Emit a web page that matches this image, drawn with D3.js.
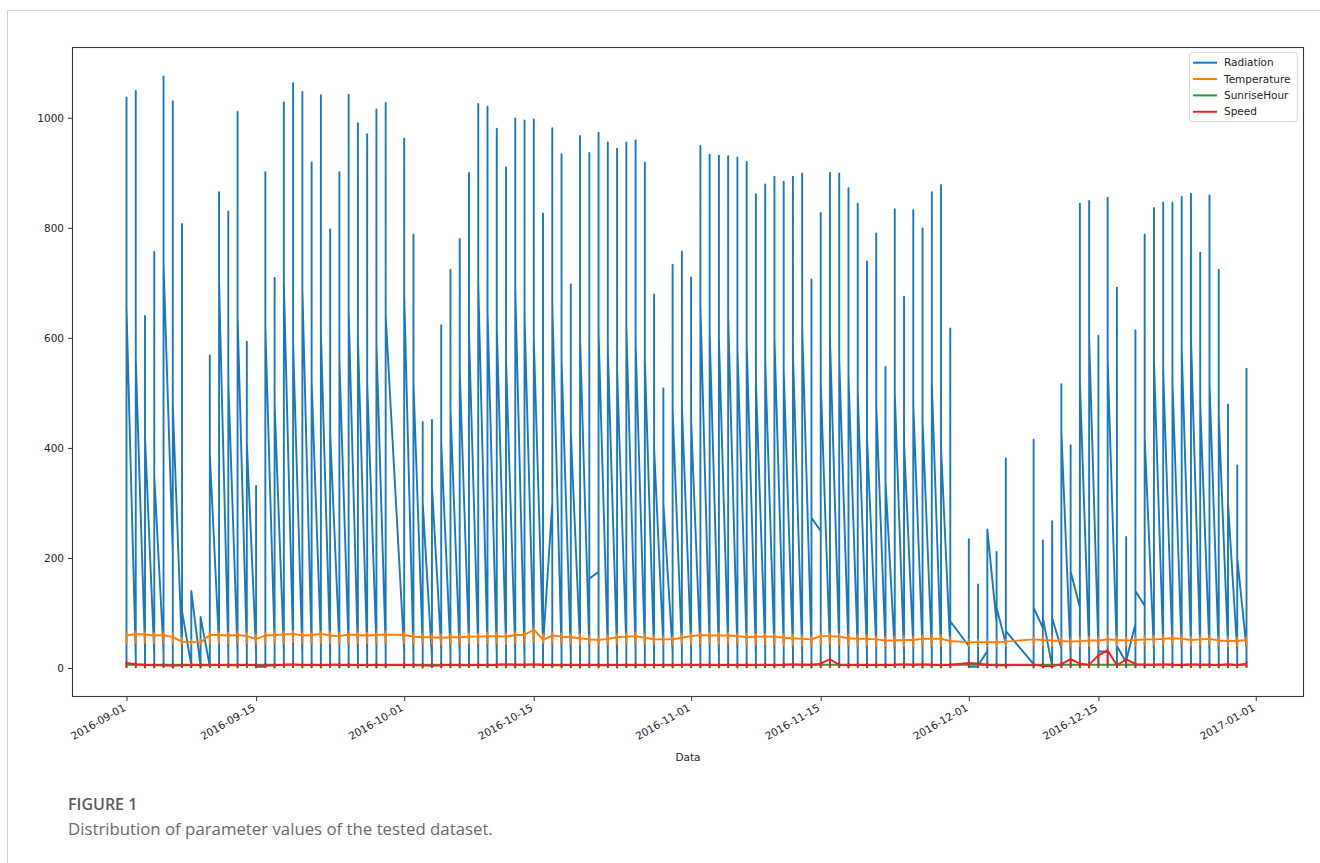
<!DOCTYPE html>
<html><head><meta charset="utf-8">
<script src="https://cdn.jsdelivr.net/npm/d3@7"></script>
<style>body{margin:0;background:#fff}svg{display:block}</style>
</head><body>
<svg id="c" width="1320" height="863"></svg>
<script>
// ---------- data ----------
const days = [
 "2016-09-01","2016-09-02","2016-09-03","2016-09-04","2016-09-05","2016-09-06","2016-09-07","2016-09-08","2016-09-09","2016-09-10",
 "2016-09-11","2016-09-12","2016-09-13","2016-09-14","2016-09-15","2016-09-16","2016-09-17","2016-09-18","2016-09-19","2016-09-20",
 "2016-09-21","2016-09-22","2016-09-23","2016-09-24","2016-09-25","2016-09-26","2016-09-27","2016-09-28","2016-09-29",
 "2016-10-01","2016-10-02","2016-10-03","2016-10-04","2016-10-05","2016-10-06","2016-10-07","2016-10-08","2016-10-09","2016-10-10",
 "2016-10-11","2016-10-12","2016-10-13","2016-10-14","2016-10-15","2016-10-16","2016-10-17","2016-10-18","2016-10-19","2016-10-20",
 "2016-10-21","2016-10-22","2016-10-23","2016-10-24","2016-10-25","2016-10-26","2016-10-27","2016-10-28","2016-10-29","2016-10-30","2016-10-31",
 "2016-11-01","2016-11-02","2016-11-03","2016-11-04","2016-11-05","2016-11-06","2016-11-07","2016-11-08","2016-11-09","2016-11-10",
 "2016-11-11","2016-11-12","2016-11-13","2016-11-14","2016-11-15","2016-11-16","2016-11-17","2016-11-18","2016-11-19","2016-11-20",
 "2016-11-21","2016-11-22","2016-11-23","2016-11-24","2016-11-25","2016-11-26","2016-11-27","2016-11-28","2016-11-29",
 "2016-12-01","2016-12-02","2016-12-03","2016-12-04","2016-12-05",
 "2016-12-08","2016-12-09","2016-12-10","2016-12-11","2016-12-12","2016-12-13","2016-12-14","2016-12-15","2016-12-16","2016-12-17",
 "2016-12-18","2016-12-19","2016-12-20","2016-12-21","2016-12-22","2016-12-23","2016-12-24","2016-12-25","2016-12-26","2016-12-27",
 "2016-12-28","2016-12-29","2016-12-30","2016-12-31"
];
// Radiation: daily maximum, value where the day's trace leaves, value where it arrives
const radPeak = [
 1037,1049,640,756,1075,1030,807,140,93,568,865,830,1011,593,331,901,709,1028,1063,1047,919,1041,797,901,1042,990,970,1015,1027,
 962,788,447,451,623,724,780,900,1025,1020,980,910,999,995,997,826,981,934,697,967,936,973,955,944,955,959,919,679,508,733,757,
 710,949,933,931,930,928,920,861,879,893,884,893,899,706,827,900,899,872,844,739,790,547,834,675,832,799,865,878,617,
 234,152,252,211,381,
 415,232,267,516,405,844,849,604,855,691,238,614,788,836,846,846,856,862,755,859,724,479,368,544
];
const radExit = [
 655,560,420,349,735,480,103,140,93,390,700,520,640,410,2,620,480,700,590,690,520,610,430,560,650,600,520,590,640,
 680,520,300,330,410,470,540,610,700,650,620,560,690,640,600,40,660,560,430,600,162,610,580,540,620,590,560,400,300,470,480,
 450,660,610,600,640,580,590,520,560,600,540,570,620,273,520,600,560,530,500,420,480,340,500,410,480,450,520,400,85,
 2,4,252,110,67,
 110,91,91,430,176,520,600,30,560,40,13,140,419,560,540,520,580,600,480,520,460,300,200,60
];
const radEntry = [
 3,20,35,25,30,210,30,5,3,3,40,30,25,35,30,2,45,30,40,25,35,45,30,40,35,25,30,40,35,
 30,25,40,20,35,30,25,40,30,35,25,40,30,20,35,45,300,30,25,40,35,175,30,25,40,30,35,25,40,30,35,
 35,30,40,25,35,30,40,25,35,30,40,30,25,35,249,30,40,35,30,25,40,35,30,25,40,35,30,25,35,
 40,2,31,82,44,
 7,73,3,35,20,110,30,35,30,25,10,80,113,30,40,35,30,40,35,30,25,40,30,35
];
const radNight = 1.2;

const tempLink = [
 59,62,61,59,60,56,48,47,47,60,60,59,60,58,53,59,60,61,62,59,60,62,59,58,61,60,59,60,61,
 60,57,56,56,55,56,56,57,57,58,58,57,60,60,70,51,59,57,56,54,52,51,53,56,57,58,55,52,52,52,55,
 58,60,59,59,59,58,56,57,57,57,55,54,53,52,58,58,57,54,53,53,52,50,50,51,51,53,53,53,49,
 47,47,47,47,48,
 52,51,50,49,48,49,50,50,52,51,50,51,52,52,53,54,53,51,52,53,50,49,49,51
];
const tempHigh = [
 65,66,65,64,65,63,55,51,52,65,65,64,65,64,61,64,65,66,67,65,64,66,65,64,66,65,64,65,66,
 65,63,62,62,61,62,62,63,63,64,64,63,65,65,72,61,64,63,62,61,59,58,59,62,63,64,61,59,58,58,61,
 63,64,64,64,64,63,62,62,62,62,61,60,59,58,63,63,62,60,59,59,58,57,57,57,57,59,59,59,56,
 51,51,51,51,52,
 57,56,56,55,54,55,56,56,58,57,56,57,58,58,59,59,59,57,58,59,56,55,55,57
];
const tempLow = [
 45,46,46,45,46,45,44,44,44,45,46,45,46,45,44,45,46,46,47,46,45,46,45,46,46,45,45,46,46,
 45,44,44,44,43,44,44,45,45,45,45,44,46,46,48,46,46,45,44,44,43,43,43,44,44,45,44,43,43,43,44,
 44,45,45,44,44,44,43,43,43,43,42,42,41,41,43,44,43,42,41,41,41,40,40,40,40,41,41,41,40,
 40,40,40,40,41,
 42,41,40,40,39,40,40,41,42,41,41,41,42,42,43,43,43,41,42,43,41,40,40,42
];
const sunriseHour = [
 6,6,6,6,6,6,6,6,6,6,6,6,6,6,6,6,6,6,6,6,6,6,6,6,6,6,6,6,6,
 6,6,6,6,6,6,6,6,6,6,6,6,6,6,6,6,6,6,6,6,6,6,6,6,6,6,6,6,6,6,6,
 6,6,6,6,6,6,6,6,6,6,6,6,6,6,6,6,6,6,6,6,6,6,6,6,6,6,6,6,6,
 6,6,6,6,6,
 6,6,6,6,6,6,6,6,6,6,6,6,6,6,6,6,6,6,6,6,6,6,6,6
];
const speedLink = [
 9,7,6,5,5,4,5,6,5,5,6,5,5,6,5,4,5,6,7,5,6,5,6,6,5,6,5,6,5,
 6,5,5,4,5,6,5,5,6,5,6,7,6,6,7,6,5,5,6,5,6,5,5,6,5,6,5,6,5,5,6,
 6,5,6,5,6,5,6,5,6,5,6,7,6,6,8,16,6,5,6,5,6,5,6,7,6,7,6,5,6,
 9,8,6,5,5,
 6,4,3,7,16,8,6,23,32,5,16,7,6,6,7,6,5,7,6,6,5,7,5,8
];
const speedHigh = [
 11,10,9,8,8,8,9,9,8,8,9,8,8,9,8,8,8,9,10,8,9,8,9,9,8,9,8,9,8,
 9,8,8,8,9,9,8,8,9,8,9,10,9,9,10,9,8,8,9,8,9,8,8,9,8,9,8,9,8,8,9,
 9,8,9,8,9,8,9,8,9,8,9,10,9,9,11,18,9,8,9,8,9,8,9,10,9,10,9,8,9,
 12,11,9,8,8,
 9,8,7,10,18,11,9,25,34,8,18,10,9,9,10,9,8,10,9,9,8,10,8,11
];
const speedLow = [
 2,2,1,1,2,1,2,2,1,2,1,2,1,2,1,2,1,2,2,1,2,1,2,1,2,1,2,1,2,
 1,2,1,2,1,2,1,2,1,2,1,2,1,2,2,1,2,1,2,1,2,1,2,1,2,1,2,1,2,1,2,
 2,1,2,1,2,1,2,1,2,1,2,1,2,1,2,3,2,1,2,1,2,1,2,1,2,1,2,1,2,
 2,2,1,1,1,
 1,1,1,2,3,2,1,4,5,2,3,2,1,2,1,2,1,2,1,2,1,2,1,2
];
const yTicks = [0,200,400,600,800,1000];
const xTickLabels = ["2016-09-01","2016-09-15","2016-10-01","2016-10-15","2016-11-01","2016-11-15","2016-12-01","2016-12-15","2017-01-01"];
const legendNames = ["Radiation","Temperature","SunriseHour","Speed"];
const colors = ["#1a78bd","#ff7f0e","#2ca02c","#ec2226"];

// ---------- build ----------
const parse = d3.utcParse("%Y-%m-%d");
const dates = days.map(parse);
const series = [
  dates.flatMap((d,i)=>[[d,radEntry[i]],[d,radNight],[d,radPeak[i]],[d,radExit[i]]]),
  dates.flatMap((d,i)=>[[d,tempLink[i]],[d,tempLow[i]],[d,tempHigh[i]],[d,tempLink[i]]]),
  dates.flatMap((d,i)=>[[d,sunriseHour[i]],[d,sunriseHour[i]]]),
  dates.flatMap((d,i)=>[[d,speedLink[i]],[d,speedLow[i]],[d,speedHigh[i]],[d,speedLink[i]]])
];

const L=72,R=1304,T=47,B=697;
const svg = d3.select("#c");
const font = "'DejaVu Sans', sans-serif";

// outer figure frame
svg.append("rect").attr("x",7.5).attr("y",10.5).attr("width",1400).attr("height",900)
  .attr("fill","none").attr("stroke","#cfcfcf").attr("stroke-width",1);

const [t0,t1] = d3.extent(dates);
const span = t1 - t0;
const x = d3.scaleUtc().domain([new Date(+t0 - span*0.05), new Date(+t1 + span*0.05)]).range([L-1.5,R-1.5]);
const allV = series.flat().map(p=>p[1]);
const vmin = d3.min(allV), vmax = d3.max(allV), pad=(vmax-vmin)*0.05;
const y = d3.scaleLinear().domain([vmin-pad, vmax+pad]).range([B,T]);

svg.append("clipPath").attr("id","clp").append("rect")
  .attr("x",L).attr("y",T).attr("width",R-L).attr("height",B-T);

const line = d3.line().x(p=>x(p[0])).y(p=>y(p[1]));
const g = svg.append("g").attr("clip-path","url(#clp)");
series.forEach((s,k)=>{
  g.append("path").attr("d",line(s)).attr("fill","none")
   .attr("stroke",colors[k]).attr("stroke-width",1.9).attr("stroke-linejoin","round");
});

// axes box
svg.append("rect").attr("x",L+0.5).attr("y",T+0.5).attr("width",R-L-1).attr("height",B-T-1)
  .attr("fill","none").attr("stroke","#3a3a3a").attr("stroke-width",1.1);

// y axis
const ya = svg.append("g").attr("transform",`translate(${L},0)`)
  .call(d3.axisLeft(y).tickValues(yTicks).tickSize(4).tickPadding(4).tickFormat(d3.format("d")));
ya.select(".domain").remove();
ya.selectAll("line").attr("stroke","#3a3a3a");
ya.selectAll("text").attr("font-family",font).attr("font-size",10.5).attr("fill","#262626");

// x axis
const xTickDates = xTickLabels.map(parse);
const xa = svg.append("g").attr("transform",`translate(0,${B})`)
  .call(d3.axisBottom(x).tickValues(xTickDates).tickSize(4).tickFormat(""));
xa.select(".domain").remove();
xa.selectAll("line").attr("stroke","#3a3a3a");
svg.append("g").selectAll("text").data(xTickDates).join("text")
  .attr("transform",(d)=>`translate(${x(d)-4},${B+6}) rotate(-30)`)
  .attr("text-anchor","end").attr("dy","0.75em")
  .attr("font-family",font).attr("font-size",10.5).attr("fill","#262626")
  .text((d,i)=>xTickLabels[i]);

svg.append("text").attr("x",(L+R)/2).attr("y",761).attr("text-anchor","middle")
  .attr("font-family",font).attr("font-size",10.5).attr("fill","#262626").text("Data");

// legend
const lg = svg.append("g");
lg.append("rect").attr("x",1189.5).attr("y",52.5).attr("width",108).attr("height",69).attr("rx",3)
  .attr("fill","#fff").attr("fill-opacity",0.85).attr("stroke","#d6d6d6");
legendNames.forEach((n,i)=>{
  const cy = 62.7 + i*16.35;
  lg.append("line").attr("x1",1193).attr("x2",1217).attr("y1",cy).attr("y2",cy)
    .attr("stroke",colors[i]).attr("stroke-width",2);
  lg.append("text").attr("x",1224).attr("y",cy).attr("dy","0.35em")
    .attr("font-family",font).attr("font-size",10.5).attr("fill","#262626").text(n);
});

// caption
svg.append("text").attr("x",68).attr("y",810).attr("font-family","'Open Sans', sans-serif")
  .attr("font-size",16).attr("font-weight",600).attr("fill","#5c5c5c").text("FIGURE 1");
svg.append("text").attr("x",68).attr("y",835).attr("font-family","'Open Sans', sans-serif")
  .attr("font-size",16.8).attr("fill","#6a6a6a").text("Distribution of parameter values of the tested dataset.");
</script>
</body></html>
